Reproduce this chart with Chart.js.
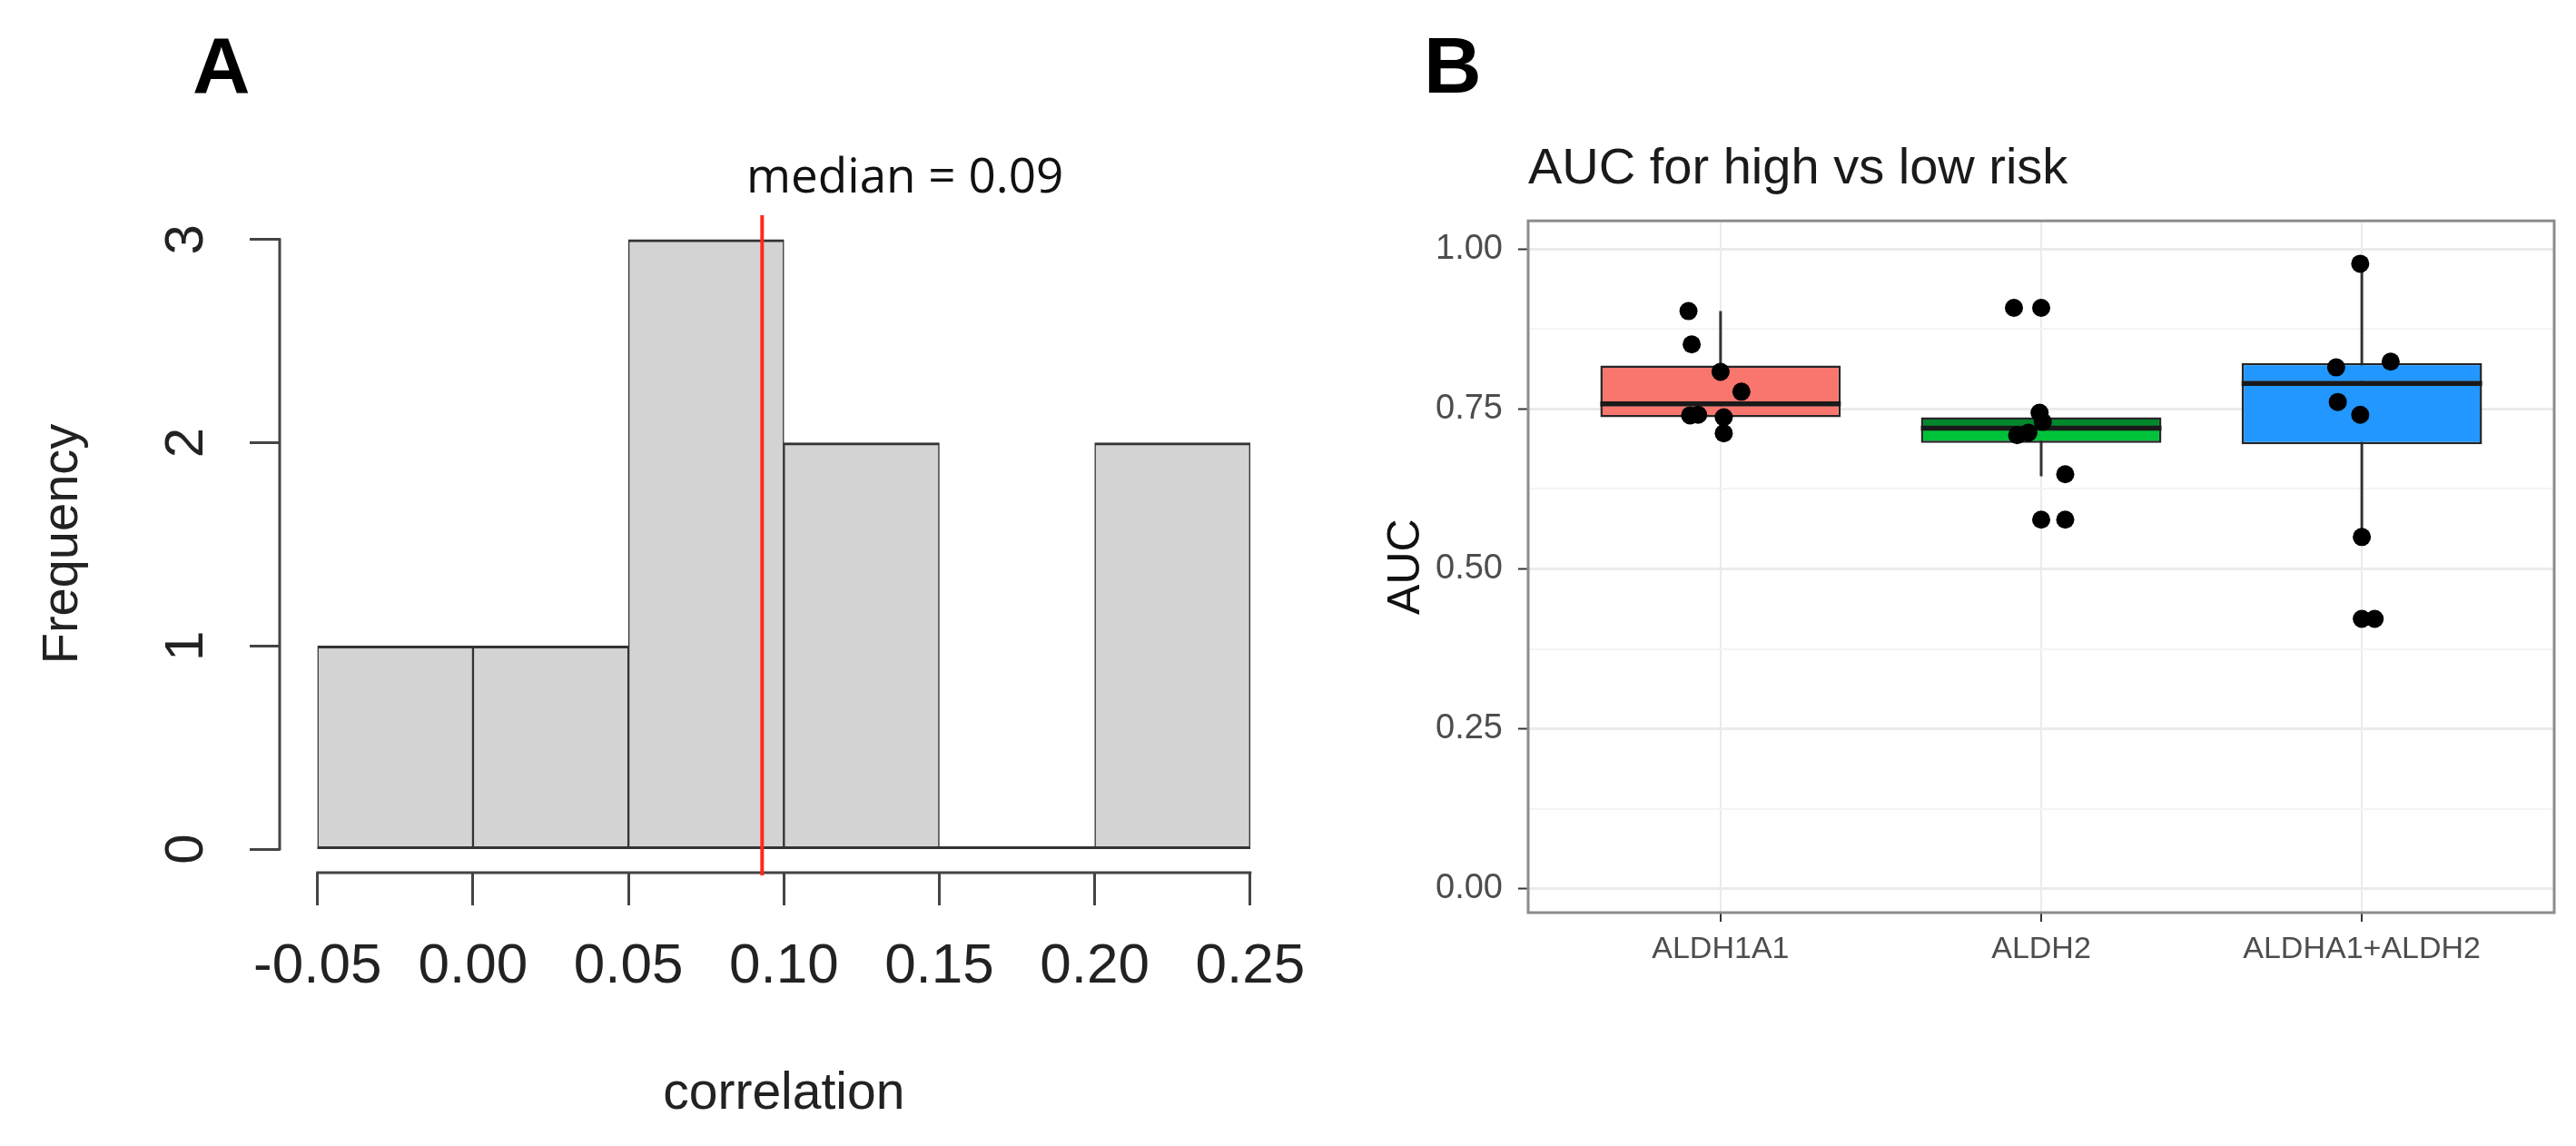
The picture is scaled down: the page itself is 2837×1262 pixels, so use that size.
<!DOCTYPE html>
<html>
<head>
<meta charset="utf-8">
<script src="https://cdn.jsdelivr.net/npm/chart.js"></script>
<style>
html,body{margin:0;padding:0;background:#ffffff;}
body{width:2837px;height:1262px;position:relative;overflow:hidden;font-family:'Liberation Sans',Arial,sans-serif;}
canvas{position:absolute;top:0;}
#cA{left:0;}
#cB{left:1480px;}
.lbl{position:absolute;line-height:1;white-space:nowrap;z-index:2;}
</style>
</head>
<body>
<canvas id="cA" width="1470" height="1262"></canvas>
<canvas id="cB" width="1357" height="1262"></canvas>
<div class="lbl" style="left:212px;top:28px;font-weight:bold;font-size:88px;color:#000;">A</div>
<div class="lbl" style="left:1568px;top:28px;font-weight:bold;font-size:88px;color:#000;">B</div>
<div class="lbl" id="medLbl" style="left:822px;top:165px;font-family:'Open Sans',sans-serif;font-size:53px;color:#111;"></div>
<script>
// ---------- Panel A data (histogram of correlations) ----------
const binEdges = [-0.05, 0.00, 0.05, 0.10, 0.15, 0.20, 0.25];
const binCounts = [1, 1, 3, 2, 0, 2];
const freqTicks = [0, 1, 2, 3];
const medianCorrelation = 0.093;
const medianLabel = 'median = 0.09';

// ---------- Panel B data (AUC boxplots) ----------
const categories = ['ALDH1A1', 'ALDH2', 'ALDHA1+ALDH2'];
const boxQ1 = [0.737, 0.697, 0.695];
const boxMedian = [0.758, 0.720, 0.790];
const boxQ3 = [0.818, 0.737, 0.822];
const whiskerLow = [0.712, 0.645, 0.550];
const whiskerHigh = [0.903, 0.737, 0.976];
const aucALDH1A1 = [0.903, 0.851, 0.808, 0.777, 0.740, 0.741, 0.737, 0.712];
const jitALDH1A1 = [-0.10, -0.09, 0.00, 0.065, -0.095, -0.07, 0.01, 0.01];
const aucALDH2 = [0.908, 0.908, 0.744, 0.730, 0.713, 0.709, 0.648, 0.577, 0.577];
const jitALDH2 = [-0.085, 0.00, -0.005, 0.005, -0.04, -0.075, 0.075, 0.00, 0.075];
const aucCombined = [0.977, 0.824, 0.815, 0.761, 0.741, 0.550, 0.422, 0.422];
const jitCombined = [-0.005, 0.09, -0.08, -0.075, -0.005, 0.00, 0.00, 0.04];
const aucMajorTicks = [0, 0.25, 0.5, 0.75, 1];
const aucMinorTicks = [0.125, 0.375, 0.625, 0.875];
const boxFillLower = ['#F8766D', '#00C13A', '#2197FF'];
const boxFillUpper = ['#F8766D', '#00872C', '#2197FF'];

Chart.defaults.font.family = "'Liberation Sans', Arial, sans-serif";
document.getElementById('medLbl').textContent = medianLabel;

// ---------- Panel A ----------
const histData = binCounts.map((c, i) => ({x: (binEdges[i] + binEdges[i + 1]) / 2, y: c}));

const rAxesPlugin = {
  id: 'rAxes',
  afterDatasetsDraw(chart) {
    const {ctx, chartArea: a, scales: {x, y}} = chart;
    const seg = (x1, y1, x2, y2) => { ctx.beginPath(); ctx.moveTo(x1, y1); ctx.lineTo(x2, y2); ctx.stroke(); };
    ctx.save();
    ctx.lineCap = 'butt';
    ctx.strokeStyle = '#333';
    ctx.lineWidth = 3;
    const y0 = y.getPixelForValue(0);
    seg(x.getPixelForValue(binEdges[0]), y0 - 1.5, x.getPixelForValue(binEdges[binEdges.length - 1]), y0 - 1.5);
    ctx.strokeStyle = '#444';
    seg(x.getPixelForValue(binEdges[0]) - 1.5, a.bottom, x.getPixelForValue(binEdges[binEdges.length - 1]) + 1.5, a.bottom);
    seg(a.left, y.getPixelForValue(freqTicks[0]) + 1.5, a.left, y.getPixelForValue(freqTicks[freqTicks.length - 1]) - 1.5);
    const xm = x.getPixelForValue(medianCorrelation);
    ctx.strokeStyle = '#ff2a1a';
    ctx.lineWidth = 4;
    seg(xm, a.top, xm, a.bottom + 3);
    ctx.restore();
  }
};

new Chart(document.getElementById('cA'), {
  type: 'bar',
  data: {
    datasets: [{
      data: histData,
      backgroundColor: '#d3d3d3',
      borderColor: '#333',
      borderWidth: {top: 3, bottom: 3, left: 1.5, right: 1.5},
      borderSkipped: false,
      barPercentage: 1,
      categoryPercentage: 1
    }]
  },
  options: {
    responsive: false,
    animation: false,
    devicePixelRatio: 1,
    layout: {padding: {left: 0, right: 49, top: 237, bottom: 0}},
    scales: {
      x: {
        type: 'linear', min: -0.0622, max: 0.2622, offset: false,
        afterBuildTicks: s => { s.ticks = binEdges.map(v => ({value: v})); },
        afterFit: s => { s.height = 301; },
        ticks: {callback: v => v.toFixed(2), font: {size: 62}, color: '#222', padding: 31, maxRotation: 0, minRotation: 0, autoSkip: false},
        grid: {offset: false, drawOnChartArea: false, drawTicks: true, tickLength: 36, tickColor: '#444', tickWidth: 3},
        border: {display: false},
        title: {display: true, text: 'correlation', font: {size: 57}, color: '#222', padding: {top: 0, bottom: 23}}
      },
      y: {
        type: 'linear', min: -0.116, max: 3.12,
        afterBuildTicks: s => { s.ticks = freqTicks.map(v => ({value: v})); },
        afterFit: s => { s.width = 308; },
        ticks: {minRotation: 90, maxRotation: 90, crossAlign: 'center', font: {size: 60}, color: '#222', padding: 52, autoSkip: false},
        grid: {drawOnChartArea: false, drawTicks: true, tickLength: 33, tickColor: '#444', tickWidth: 3},
        border: {display: false},
        title: {display: true, text: 'Frequency', font: {size: 56}, color: '#222', padding: {top: 36, bottom: 0}}
      }
    },
    plugins: {legend: {display: false}, tooltip: {enabled: false}}
  },
  plugins: [rAxesPlugin]
});

// ---------- Panel B ----------
const boxWidthFraction = 0.75;
const aucSeries = [aucALDH1A1, aucALDH2, aucCombined];
const jitSeries = [jitALDH1A1, jitALDH2, jitCombined];
const pointData = [];
aucSeries.forEach((vals, i) => vals.forEach((v, j) => pointData.push({x: i + 1 + jitSeries[i][j], y: v})));
const whiskerData = [];
const medianData = [];
categories.forEach((c, i) => {
  whiskerData.push({x: i + 1, y: whiskerLow[i]}, {x: i + 1, y: whiskerHigh[i]}, {x: i + 1.5, y: null});
  medianData.push({x: i + 1 - boxWidthFraction / 2, y: boxMedian[i]}, {x: i + 1 + boxWidthFraction / 2, y: boxMedian[i]}, {x: i + 1.5, y: null});
});
const lowerBox = categories.map((c, i) => ({x: i + 1, y: [boxQ1[i], boxMedian[i]]}));
const upperBox = categories.map((c, i) => ({x: i + 1, y: [boxMedian[i], boxQ3[i]]}));
const allYTicks = aucMajorTicks.concat(aucMinorTicks).sort((a, b) => a - b);
const isMajor = v => aucMajorTicks.includes(v);

const panelBorderPlugin = {
  id: 'panelBorder',
  afterDraw(chart) {
    const {ctx, chartArea: a} = chart;
    ctx.save();
    ctx.strokeStyle = '#8c8c8c';
    ctx.lineWidth = 3;
    ctx.strokeRect(a.left, a.top, a.right - a.left, a.bottom - a.top);
    ctx.restore();
  }
};

new Chart(document.getElementById('cB'), {
  type: 'bar',
  data: {
    datasets: [
      {type: 'line', data: whiskerData, borderColor: '#333', borderWidth: 3, pointRadius: 0, spanGaps: false, order: 5},
      {type: 'bar', data: lowerBox, backgroundColor: boxFillLower, borderColor: '#262626',
       borderWidth: 2.5, borderSkipped: false, grouped: false, barPercentage: boxWidthFraction, categoryPercentage: 1, order: 4},
      {type: 'bar', data: upperBox, backgroundColor: boxFillUpper, borderColor: '#262626',
       borderWidth: 2.5, borderSkipped: false, grouped: false, barPercentage: boxWidthFraction, categoryPercentage: 1, order: 3},
      {type: 'line', data: medianData, borderColor: '#1a1a1a', borderWidth: 5.5, borderCapStyle: 'butt', pointRadius: 0, spanGaps: false, order: 2},
      {type: 'scatter', data: pointData, backgroundColor: '#000', borderWidth: 0, pointRadius: 10, order: 1}
    ]
  },
  options: {
    responsive: false,
    animation: false,
    devicePixelRatio: 1,
    layout: {padding: {left: 0, right: 24, top: 0, bottom: 0}},
    scales: {
      x: {
        type: 'linear', min: 0.4, max: 3.6, offset: false,
        afterBuildTicks: s => { s.ticks = categories.map((c, i) => ({value: i + 1})); },
        afterFit: s => { s.height = 257; },
        ticks: {callback: v => categories[v - 1] || '', font: {size: 34}, color: '#4d4d4d', padding: 10, maxRotation: 0, minRotation: 0, autoSkip: false},
        grid: {offset: false, color: '#ebebeb', lineWidth: 2, tickLength: 10, tickColor: '#333', tickWidth: 2},
        border: {display: false}
      },
      y: {
        type: 'linear', min: -0.037, max: 1.044,
        afterBuildTicks: s => { s.ticks = allYTicks.map(v => ({value: v})); },
        afterFit: s => { s.width = 203; },
        ticks: {callback: v => isMajor(v) ? v.toFixed(2) : '', font: {size: 38}, color: '#4d4d4d', padding: 17, autoSkip: false},
        grid: {
          color: c => (c.tick && isMajor(c.tick.value)) ? '#ebebeb' : '#f4f4f4',
          lineWidth: c => (c.tick && isMajor(c.tick.value)) ? 3 : 2,
          tickLength: 11,
          tickColor: c => (c.tick && isMajor(c.tick.value)) ? '#333' : 'rgba(0,0,0,0)',
          tickWidth: 2
        },
        border: {display: false},
        title: {display: true, text: 'AUC', font: {size: 50}, color: '#111', padding: {top: 39, bottom: 0}}
      }
    },
    plugins: {
      legend: {display: false},
      tooltip: {enabled: false},
      title: {display: true, text: 'AUC for high vs low risk', align: 'start', fullSize: false, font: {size: 56, weight: 'normal'}, color: '#1a1a1a', padding: {top: 153, bottom: 23}}
    }
  },
  plugins: [panelBorderPlugin]
});
</script>
</body>
</html>
